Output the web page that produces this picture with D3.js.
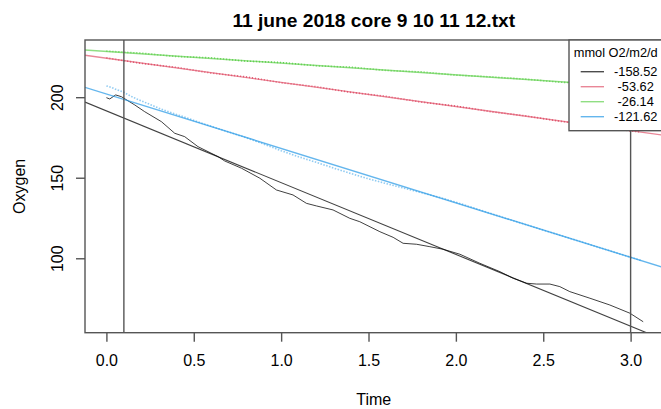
<!DOCTYPE html>
<html>
<head>
<meta charset="utf-8">
<script src="https://cdn.jsdelivr.net/npm/d3@7"></script>
<style>
    html, body { margin: 0; padding: 0; background: #fff; }
    #chart { width: 661px; height: 409px; }
    text { font-family: "Liberation Sans", Arial, sans-serif; fill: #000; }
</style>
</head>
<body>
<div id="chart"></div>
<script>
var chartTitle = "11 june 2018 core 9 10 11 12.txt";
var xTitle = "Time";
var yTitle = "Oxygen";
var xTicks = [0, 0.5, 1, 1.5, 2, 2.5, 3];
var yTicks = [100, 150, 200];
var xLimits = [-0.1225, 3.1825];
var yLimits = [53.8, 235.5];
var markerTimes = [0.1, 3.0];

var coreColors = ["#000000", "#DF536B", "#61D04F", "#2297E6"];
var legendTitle = "mmol O2/m2/d";
var legendLabels = ["-158.52", " -53.62", " -26.14", "-121.62"];

// fitted lines: oxygen = intercept + slope * time
var fitIntercepts = [191.5, 224.2, 228.4, 202.0];
var fitSlopes = [-44.55, -15.0, -7.26, -33.8];

var blackTime = [0.0, 0.019, 0.053, 0.086, 0.162, 0.219, 0.315, 0.391, 0.448, 0.524,
    0.639, 0.677, 0.773, 0.878, 0.973, 1.068, 1.145, 1.202, 1.297, 1.393,
    1.45, 1.565, 1.641, 1.698, 1.775, 1.851, 1.927, 2.023, 2.137, 2.252,
    2.328, 2.405, 2.462, 2.538, 2.595, 2.652, 2.767, 2.881, 2.996, 3.072];
var blackOxygen = [199.7, 198.9, 201.4, 200.3, 195.2, 191.0, 184.8, 177.6, 175.5, 169.3,
    163.1, 160.4, 155.9, 149.7, 142.4, 139.3, 134.1, 132.5, 130.0, 124.8,
    122.7, 116.5, 113.0, 109.3, 108.7, 107.2, 105.6, 102.5, 96.9, 91.7,
    87.6, 84.5, 84.0, 84.0, 82.4, 79.3, 75.2, 71.0, 65.9, 60.6];

var redTime = [0.0, 0.2, 0.4, 0.6, 0.8, 1.0, 1.2, 1.4, 1.6, 1.8, 2.0, 2.2, 2.4, 2.6, 2.8, 3.0, 3.06];
var redOxygen = [224.4, 221.0, 218.5, 215.0, 212.6, 209.0, 206.5, 203.0, 200.5, 197.0,
    194.5, 191.0, 188.4, 185.0, 182.5, 179.0, 178.4];

var greenTime = [0.0, 0.2, 0.4, 0.6, 0.8, 1.0, 1.2, 1.4, 1.6, 1.8, 2.0, 2.2, 2.4, 2.6, 2.8, 3.0, 3.06];
var greenOxygen = [228.6, 227.3, 225.3, 224.4, 222.4, 221.5, 219.5, 218.6, 216.6, 215.7,
    213.7, 212.6, 211.2, 209.3, 208.3, 206.4, 206.3];

var blueTime = [0.0, 0.03, 0.06, 0.1, 0.14, 0.18, 0.22, 0.26, 0.3, 0.34, 0.38, 0.42, 0.46, 0.5,
    0.6, 0.7, 0.8, 0.9, 1.0, 1.1, 1.2, 1.3, 1.4, 1.5, 1.6, 1.7, 1.8, 1.9, 2.0, 2.1,
    2.3, 2.5, 2.7, 2.9, 3.06];
var blueOxygen = [207.0, 206.0, 204.6, 203.0, 200.6, 198.6, 196.8, 195.0, 193.2, 191.6, 190.0, 188.6, 187.2, 185.6,
    181.9, 178.4, 174.8, 170.9, 166.8, 163.0, 159.6, 156.0, 152.6, 149.3, 146.4, 143.6, 140.8, 138.0, 134.8, 131.3,
    124.3, 117.5, 110.8, 104.0, 98.6];

function oxygenPlot(id) {
    var width = 661, height = 409;
    var padding = { left: 85, right: 662.5, top: 40, bottom: 332.7 };
    var frameColor = "#555";

    var x_scale = d3.scaleLinear().domain(xLimits).range([padding.left, padding.right]);
    var y_scale = d3.scaleLinear().domain(yLimits).range([padding.bottom, padding.top]);

    var svg = d3.select("#" + id)
        .append("svg")
        .attr("width", width)
        .attr("height", height);

    svg.append("clipPath")
        .attr("id", "plot-clip")
        .append("rect")
        .attr("x", padding.left)
        .attr("y", padding.top)
        .attr("width", padding.right - padding.left)
        .attr("height", padding.bottom - padding.top);

    var plot = svg.append("g").attr("clip-path", "url(#plot-clip)");

    var line = d3.line()
        .x(function (d) { return x_scale(d[0]); })
        .y(function (d) { return y_scale(d[1]); });

    var series = [
        { t: blackTime, v: blackOxygen, color: coreColors[0], width: 1, dash: null, opacity: 0.75 },
        { t: redTime, v: redOxygen, color: coreColors[1], width: 1.6, dash: "1,2", opacity: 1 },
        { t: greenTime, v: greenOxygen, color: coreColors[2], width: 1.6, dash: "1,2", opacity: 1 },
        { t: blueTime, v: blueOxygen, color: coreColors[3], width: 1.6, dash: "1.5,1.5", opacity: 0.5 }
    ];

    series.forEach(function (s) {
        plot.append("path")
            .datum(s.t.map(function (t, i) { return [t, s.v[i]]; }))
            .attr("fill", "none")
            .attr("stroke", s.color)
            .attr("stroke-width", s.width)
            .attr("stroke-opacity", s.opacity)
            .attr("stroke-dasharray", s.dash)
            .attr("d", line);
    });

    // fitted lines across the whole plot, like abline()
    fitIntercepts.forEach(function (a, i) {
        var b = fitSlopes[i];
        plot.append("line")
            .attr("x1", x_scale(xLimits[0]))
            .attr("y1", y_scale(a + b * xLimits[0]))
            .attr("x2", x_scale(xLimits[1]))
            .attr("y2", y_scale(a + b * xLimits[1]))
            .attr("stroke", coreColors[i])
            .attr("stroke-opacity", i === 0 ? 0.75 : 0.7)
            .attr("stroke-width", i === 0 ? 1.1 : 1.4);
    });

    plot.selectAll(".marker")
        .data(markerTimes)
        .enter()
        .append("line")
        .attr("x1", function (d) { return x_scale(d); })
        .attr("x2", function (d) { return x_scale(d); })
        .attr("y1", padding.top)
        .attr("y2", padding.bottom)
        .attr("stroke", frameColor)
        .attr("stroke-width", 1.4);

    // box
    svg.append("rect")
        .attr("x", padding.left)
        .attr("y", padding.top)
        .attr("width", padding.right - padding.left)
        .attr("height", padding.bottom - padding.top)
        .attr("fill", "none")
        .attr("stroke", frameColor)
        .attr("stroke-width", 1.4);

    var x_axis = d3.axisBottom(x_scale)
        .tickValues(xTicks)
        .tickSize(9)
        .tickPadding(13)
        .tickFormat(d3.format(".1f"));
    var y_axis = d3.axisLeft(y_scale)
        .tickValues(yTicks)
        .tickSize(9);

    var gx = svg.append("g")
        .attr("transform", "translate(0," + padding.bottom + ")")
        .call(x_axis);
    var gy = svg.append("g")
        .attr("transform", "translate(" + padding.left + ",0)")
        .call(y_axis);

    [gx, gy].forEach(function (g) {
        g.select(".domain").remove();
        g.selectAll(".tick line").attr("stroke", frameColor).attr("stroke-width", 1.4);
        g.selectAll(".tick text")
            .attr("font-family", '"Liberation Sans", Arial, sans-serif')
            .attr("font-size", "16px")
            .attr("fill", "#222");
    });

    gy.selectAll(".tick text")
        .attr("transform", "rotate(-90)")
        .attr("text-anchor", "middle")
        .attr("x", 0)
        .attr("y", -22)
        .attr("dy", 0);

    svg.append("text")
        .attr("x", (padding.left + padding.right) / 2)
        .attr("y", 27)
        .attr("text-anchor", "middle")
        .attr("font-size", "19.2px")
        .attr("font-weight", "bold")
        .text(chartTitle);

    svg.append("text")
        .attr("x", (padding.left + padding.right) / 2)
        .attr("y", 405)
        .attr("text-anchor", "middle")
        .attr("font-size", "16px")
        .attr("fill", "#222")
        .text(xTitle);

    svg.append("text")
        .attr("transform", "translate(25," + (padding.top + padding.bottom) / 2 + ") rotate(-90)")
        .attr("text-anchor", "middle")
        .attr("font-size", "16px")
        .attr("fill", "#222")
        .text(yTitle);

    // legend, top right
    var legend_area = svg.append("g")
        .attr("transform", "translate(569," + padding.top + ")");

    legend_area.append("rect")
        .attr("width", padding.right - 569)
        .attr("height", 90.7)
        .attr("fill", "#fff")
        .attr("stroke", frameColor)
        .attr("stroke-width", 1.4);

    legend_area.append("text")
        .attr("x", (padding.right - 569) / 2)
        .attr("y", 16.5)
        .attr("text-anchor", "middle")
        .attr("font-size", "12.8px")
        .text(legendTitle);

    var entry = legend_area.selectAll(".entry")
        .data(legendLabels)
        .enter()
        .append("g")
        .attr("transform", function (d, i) {
            return "translate(0," + (31.7 + i * 15) + ")";
        });

    entry.append("line")
        .attr("x1", 11.7)
        .attr("x2", 35)
        .attr("stroke", function (d, i) { return coreColors[i]; })
        .attr("stroke-opacity", 0.7)
        .attr("stroke-width", 1.4);

    entry.append("text")
        .attr("x", 45)
        .attr("dy", "0.36em")
        .attr("font-size", "12.8px")
        .style("white-space", "pre")
        .text(function (d) { return d; });

    return svg;
}

oxygenPlot("chart");
</script>
</body>
</html>
